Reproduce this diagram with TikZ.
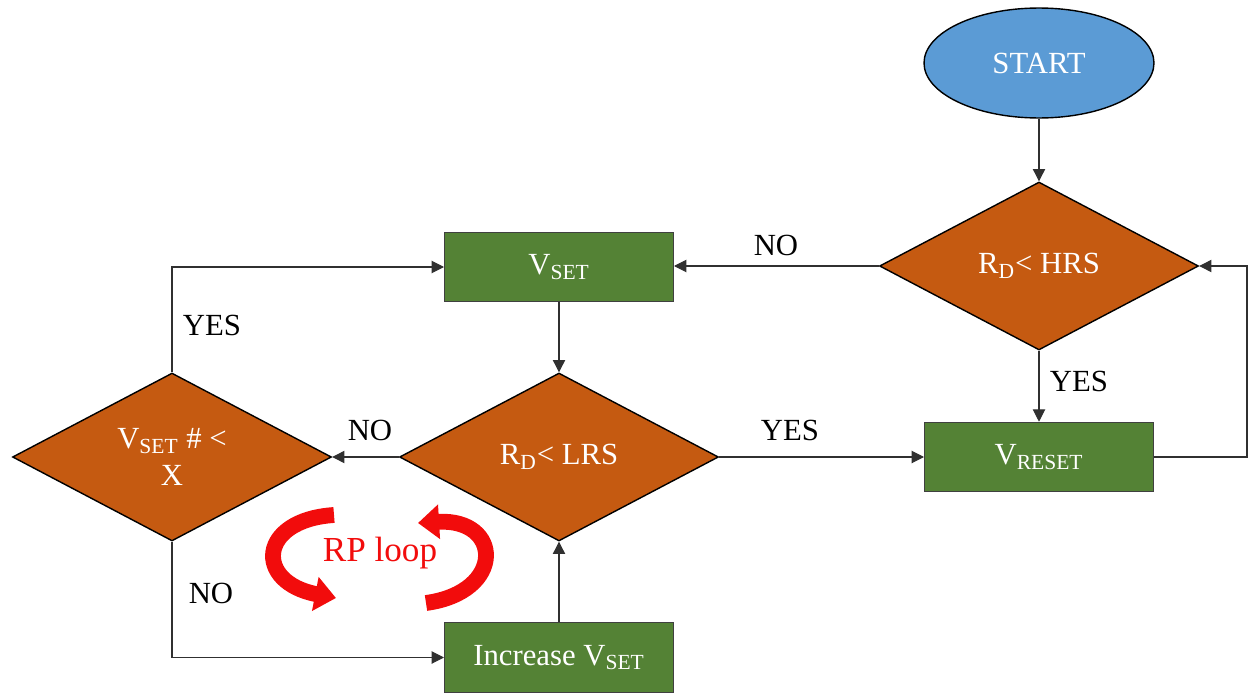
\documentclass[tikz,border=0pt]{standalone}
\usepackage{fontspec}
\setmainfont{Liberation Serif}
\usetikzlibrary{arrows.meta,shapes.geometric}
\definecolor{startblue}{HTML}{5B9BD5}
\definecolor{decorange}{HTML}{C55A11}
\definecolor{stepgreen}{HTML}{548235}
\definecolor{loopred}{HTML}{F20C0C}
\definecolor{wire}{HTML}{303030}
\newcommand{\Txt}{\fontsize{17.5}{21}\selectfont}

\begin{document}
\begin{tikzpicture}[x=0.02cm,y=-0.02cm, font=\Txt,
    flow/.style={draw=wire, line width=0.6pt, -{Triangle[length=7pt,width=7pt]}},
    decision/.style={diamond, draw=black, line width=0.8pt, fill=decorange, text=white,
      inner sep=0pt, align=center, minimum width=6.38cm, minimum height=3.36cm},
    action/.style={rectangle, draw=black!75, line width=0.6pt, fill=stepgreen, text=white,
      minimum width=4.58cm, minimum height=1.39cm},
    tag/.style={text=black},
    rploop/.style={draw=loopred, line width=9pt, -{Triangle[length=12pt,width=19pt]}}]
  \useasboundingbox (0,0) rectangle (1249,693);
  % shapes
  \node[ellipse, draw=black, line width=0.8pt, fill=startblue, text=white,
    minimum width=4.6cm, minimum height=2.2cm] (start) at (1039,63) {START};
  \node[decision] (hrs) at (1039,266) {R\textsubscript{D}< HRS};
  \node[action] (vset) at (559,267) {V\textsubscript{SET}};
  \node[decision] (lrs) at (559,457) {R\textsubscript{D}< LRS};
  \node[decision] (cnt) at (172,457) {V\textsubscript{SET} \# <\\X};
  \node[action] (vreset) at (1039,457) {V\textsubscript{RESET}};
  \node[action] (inc) at (559,657.5) {Increase V\textsubscript{SET}};
  \coordinate (rtop) at (1247,266);
  % connectors
  \draw[flow] (start) -- (hrs);
  \draw[flow] (hrs.west) -- (hrs.west -| vset.east);
  \draw[flow] (hrs.south) -- (vreset.north);
  \draw[flow] (vset.south) -- (lrs.north);
  \draw[flow] (lrs.east) -- (vreset.west);
  \draw[flow] (lrs.west) -- (cnt.east);
  \draw[flow] (cnt.north) |- (vset.west);
  \draw[flow] (cnt.south) |- (inc.west);
  \draw[flow] (inc.north) -- (lrs.south);
  \draw[flow] (vreset.east) -| (rtop) -- (hrs.east);
  % labels
  \node[tag] (nohrs) at (776,245) {NO};
  \node[tag] (yeshrs) at (1079,381) {YES};
  \node[tag] (yeslrs) at (790,430) {YES};
  \node[tag] (nolrs) at (370,430) {NO};
  \node[tag] (yescnt) at (212,325) {YES};
  \node[tag] (nocnt) at (211,593) {NO};
  % RP loop
  \draw[rploop] (334,515) .. controls (258,520) and (254,582) .. (336,598);
  \draw[rploop] (426,603) .. controls (506,592) and (502,518) .. (418,523);
  \node[text=loopred, font=\fontsize{20}{24}\selectfont] (rp) at (380,553) {RP loop};
\end{tikzpicture}
\end{document}
